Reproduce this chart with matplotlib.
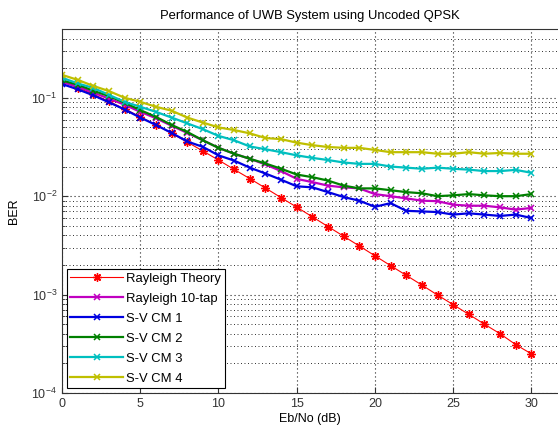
import numpy as np
import matplotlib
matplotlib.use("Agg")
from matplotlib import pyplot as plt
from matplotlib.ticker import LogLocator, FixedLocator, NullFormatter

plt.rcParams['font.family'] = ['Liberation Sans', 'DejaVu Sans']
plt.rcParams['mathtext.fontset'] = 'custom'
plt.rcParams['mathtext.rm'] = 'Liberation Sans'
plt.rcParams['mathtext.it'] = 'Liberation Sans'

# Eb/No axis (dB)
ebno = list(range(0, 31))

# values
rayleigh_theory = [0.1464, 0.1267, 0.1085, 0.0919, 0.0771, 0.0642, 0.0530, 0.0435,
                   0.0355, 0.0288, 0.0233, 0.0187, 0.0151, 0.0121, 0.00967, 0.00774,
                   0.00617, 0.00491, 0.00392, 0.00312, 0.00248, 0.00197, 0.00157,
                   0.00125, 0.00099, 0.00079, 0.00063, 0.00050, 0.00040, 0.00031, 0.00025]
rayleigh_10tap = [0.145, 0.130, 0.113, 0.098, 0.085, 0.072, 0.062, 0.052, 0.044, 0.037,
                  0.031, 0.027, 0.024, 0.021, 0.018, 0.015, 0.0139, 0.0128, 0.0123, 0.0120,
                  0.0105, 0.0100, 0.0095, 0.0090, 0.0089, 0.0082, 0.0080, 0.0080, 0.0077,
                  0.0073, 0.0076]
sv_cm1 = [0.138, 0.122, 0.106, 0.090, 0.076, 0.063, 0.053, 0.044, 0.036, 0.0317,
          0.026, 0.023, 0.0195, 0.017, 0.0147, 0.0126, 0.0123, 0.0110, 0.0098, 0.0090,
          0.0078, 0.0085, 0.0071, 0.0070, 0.0069, 0.0065, 0.0067, 0.0065, 0.0063,
          0.0065, 0.0060]
sv_cm2 = [0.150, 0.136, 0.118, 0.104, 0.089, 0.075, 0.064, 0.053, 0.045, 0.037,
          0.031, 0.027, 0.024, 0.0215, 0.019, 0.0166, 0.0156, 0.0144, 0.0128, 0.0120,
          0.0120, 0.0115, 0.0110, 0.0107, 0.0100, 0.0102, 0.0105, 0.0102, 0.0100,
          0.0100, 0.0105]
sv_cm3 = [0.160, 0.140, 0.126, 0.107, 0.091, 0.081, 0.072, 0.063, 0.055, 0.048,
          0.041, 0.037, 0.032, 0.030, 0.028, 0.026, 0.0245, 0.0233, 0.022, 0.0213,
          0.0213, 0.020, 0.0195, 0.019, 0.0195, 0.019, 0.0186, 0.018, 0.018, 0.0185,
          0.0173]
sv_cm4 = [0.171, 0.152, 0.132, 0.117, 0.100, 0.091, 0.081, 0.074, 0.063, 0.056,
          0.050, 0.047, 0.0435, 0.039, 0.038, 0.035, 0.033, 0.0316, 0.031, 0.031,
          0.0295, 0.028, 0.028, 0.028, 0.027, 0.027, 0.028, 0.027, 0.0275, 0.027,
          0.027]

fig = plt.figure(figsize=(5.58, 4.33), dpi=100)
ax = fig.add_axes([62 / 558, 40 / 433, 1 - 62 / 558, 364 / 433])

asterisk = (8, 2, 0)
ax.semilogy(ebno, rayleigh_theory, '-', marker=asterisk, color='#ff0000', lw=0.8, ms=6, mew=1.0, label='Rayleigh Theory')
ax.semilogy(ebno, rayleigh_10tap, '-x', color='#c000c0', lw=1.6, ms=4, mew=1.1, label='Rayleigh 10-tap')
ax.semilogy(ebno, sv_cm1, '-x', color='#0000e0', lw=1.6, ms=4, mew=1.1, label='S-V CM 1')
ax.semilogy(ebno, sv_cm2, '-x', color='#008000', lw=1.6, ms=4, mew=1.1, label='S-V CM 2')
ax.semilogy(ebno, sv_cm3, '-x', color='#00bfbf', lw=1.6, ms=4, mew=1.1, label='S-V CM 3')
ax.semilogy(ebno, sv_cm4, '-x', color='#bfbf00', lw=1.6, ms=4, mew=1.1, label='S-V CM 4')

ax.set_xlim(0, 31.7)
ax.set_ylim(1e-4, 0.5)
ax.xaxis.set_major_locator(FixedLocator([0, 5, 10, 15, 20, 25, 30]))
ax.yaxis.set_major_locator(LogLocator(base=10, numticks=10))
ax.yaxis.set_minor_locator(LogLocator(base=10, subs=np.arange(2, 10), numticks=20))
ax.yaxis.set_minor_formatter(NullFormatter())

dots = (0, (1, 2.6))
ax.grid(True, which='major', ls=dots, color='#202020', lw=0.8)
ax.grid(True, which='minor', axis='y', ls=dots, color='#303030', lw=0.7)
ax.tick_params(which='both', direction='in', labelsize=9, colors='#333333')
ax.tick_params(which='major', length=4)
ax.tick_params(which='minor', length=2)
ax.spines['right'].set_visible(False)
for s in ['left', 'bottom', 'top']:
    ax.spines[s].set_color('#333333')

ax.set_title('Performance of UWB System using Uncoded QPSK', fontsize=9.4, pad=7)
ax.set_xlabel('Eb/No (dB)', fontsize=9, labelpad=2)
ax.set_ylabel('BER', fontsize=9, labelpad=8)

leg = ax.legend(loc='lower left', prop={'size': 9.4}, fancybox=False, framealpha=1,
                edgecolor='k', borderaxespad=0.35, handlelength=4.0, handletextpad=0.25,
                labelspacing=0.6, borderpad=0.3)
leg.get_frame().set_linewidth(0.8)

plt.savefig("out.png", dpi=100)
